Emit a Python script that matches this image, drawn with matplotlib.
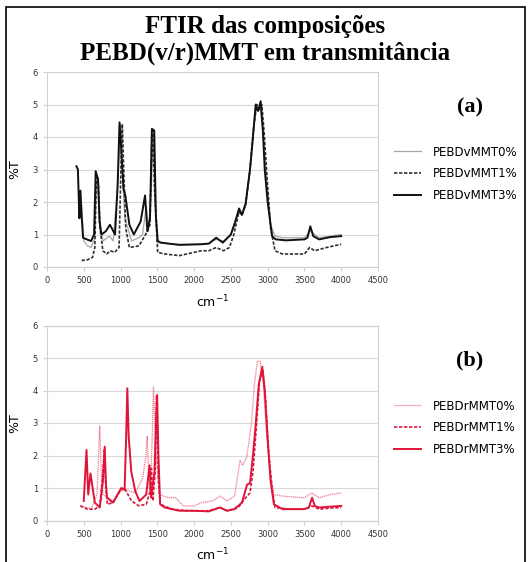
import matplotlib.pyplot as plt
from matplotlib.patches import Rectangle

# (wavenumber cm-1, %T)
v0 = [(430, 2.2), (450, 1.6), (470, 1.9), (500, 0.8), (550, 0.65), (600, 0.6), (650, 0.9), (670, 2.6),
      (690, 2.7), (710, 1.4), (760, 0.8), (850, 0.95), (900, 0.8), (960, 2.5), (1000, 4.4), (1030, 2.6),
      (1060, 1.5), (1150, 0.8), (1250, 0.9), (1300, 1.0), (1350, 1.9), (1380, 1.1), (1420, 2.5),
      (1445, 4.1), (1470, 2.0), (1500, 0.75), (1700, 0.7), (2000, 0.7), (2200, 0.72), (2300, 0.85),
      (2400, 0.8), (2500, 1.0), (2600, 1.7), (2650, 1.65), (2700, 1.9), (2760, 3.0), (2810, 4.3),
      (2850, 4.9), (2900, 4.9), (2940, 4.0), (2980, 2.8), (3040, 1.3), (3100, 0.95), (3200, 0.9),
      (3500, 0.9), (3580, 1.1), (3700, 0.9), (3850, 0.95), (4000, 1.0)]
v1 = [(470, 0.2), (550, 0.22), (620, 0.3), (650, 0.6), (670, 2.6), (686, 2.75), (700, 2.5), (720, 1.2),
      (760, 0.5), (810, 0.4), (860, 0.5), (920, 0.45), (980, 0.6), (1010, 3.5), (1024, 4.4), (1040, 3.2),
      (1070, 1.2), (1120, 0.6), (1250, 0.65), (1340, 1.0), (1400, 1.3), (1425, 3.8), (1437, 4.2),
      (1460, 2.5), (1505, 0.45), (1600, 0.4), (1800, 0.35), (2000, 0.45), (2100, 0.5), (2200, 0.5),
      (2300, 0.6), (2400, 0.5), (2480, 0.6), (2540, 1.0), (2610, 1.7), (2650, 1.6), (2700, 1.9),
      (2760, 3.0), (2810, 4.3), (2850, 5.0), (2890, 4.85), (2920, 5.0), (2950, 4.2), (2990, 2.8),
      (3040, 1.2), (3100, 0.5), (3200, 0.4), (3500, 0.4), (3570, 0.6), (3640, 0.5), (3800, 0.6),
      (4000, 0.7)]
v3 = [(400, 3.1), (420, 3.0), (440, 1.5), (455, 2.35), (470, 1.6), (490, 0.9), (540, 0.85),
      (600, 0.8), (640, 1.0), (662, 2.95), (694, 2.7), (715, 1.4), (740, 1.0), (800, 1.1), (856, 1.3),
      (925, 1.0), (960, 2.5), (986, 4.45), (1010, 3.6), (1040, 2.4), (1065, 2.2), (1120, 1.3),
      (1180, 1.0), (1273, 1.4), (1333, 2.2), (1365, 1.1), (1400, 1.5), (1426, 4.25), (1458, 4.2),
      (1480, 1.6), (1505, 0.8), (1550, 0.75), (1800, 0.68), (2100, 0.7), (2200, 0.72), (2300, 0.9),
      (2390, 0.75), (2500, 1.0), (2560, 1.4), (2611, 1.8), (2650, 1.6), (2700, 1.95), (2760, 3.0),
      (2800, 4.0), (2837, 5.0), (2870, 4.8), (2905, 5.1), (2935, 4.2), (2960, 3.0), (3000, 2.0),
      (3060, 0.95), (3110, 0.85), (3250, 0.82), (3500, 0.85), (3540, 0.9), (3580, 1.25), (3620, 0.95),
      (3700, 0.85), (3850, 0.92), (4000, 0.95)]

r0 = [(470, 0.45), (600, 0.35), (680, 0.8), (717, 2.9), (735, 1.6), (760, 0.8), (900, 0.6),
      (1000, 0.9), (1080, 0.95), (1200, 0.85), (1300, 1.3), (1345, 2.0), (1362, 2.6), (1380, 1.5),
      (1400, 0.8), (1430, 2.5), (1448, 4.12), (1475, 2.2), (1530, 0.8), (1650, 0.7), (1750, 0.7),
      (1850, 0.45), (2000, 0.45), (2100, 0.55), (2250, 0.6), (2350, 0.75), (2450, 0.6), (2550, 0.75),
      (2625, 1.85), (2660, 1.7), (2715, 1.95), (2778, 2.95), (2820, 4.2), (2860, 4.9), (2900, 4.9),
      (2940, 4.2), (2980, 2.8), (3030, 1.5), (3085, 0.8), (3200, 0.75), (3500, 0.7), (3600, 0.85),
      (3700, 0.7), (3850, 0.8), (4000, 0.85)]
r1 = [(450, 0.45), (550, 0.35), (650, 0.35), (720, 0.45), (760, 1.5), (780, 2.2), (800, 1.0),
      (820, 0.5), (900, 0.55), (1000, 0.95), (1050, 1.0), (1150, 0.6), (1250, 0.45), (1350, 0.5),
      (1400, 0.9), (1420, 1.6), (1440, 0.6), (1470, 1.5), (1490, 3.85), (1515, 1.2), (1540, 0.5),
      (1700, 0.35), (1900, 0.3), (2200, 0.3), (2350, 0.4), (2450, 0.3), (2600, 0.4), (2700, 0.7),
      (2760, 0.85), (2800, 1.5), (2850, 3.0), (2890, 4.3), (2935, 4.6), (2970, 3.8), (3010, 2.2),
      (3060, 1.0), (3100, 0.4), (3300, 0.35), (3500, 0.35), (3600, 0.45), (3700, 0.35), (3850, 0.38),
      (4000, 0.4)]
r3 = [(500, 0.6), (537, 2.17), (560, 0.8), (591, 1.45), (650, 0.55), (717, 0.4), (760, 1.2), (785, 2.27),
      (800, 1.2), (816, 0.7), (897, 0.55), (1010, 1.0), (1055, 0.95), (1075, 2.5), (1092, 4.07),
      (1110, 2.6), (1146, 1.5), (1200, 0.9), (1258, 0.6), (1349, 0.8), (1394, 1.7), (1416, 0.7),
      (1461, 1.5), (1485, 3.2), (1497, 3.86), (1515, 2.0), (1538, 0.5), (1600, 0.4), (1800, 0.3),
      (2000, 0.3), (2200, 0.28), (2350, 0.4), (2450, 0.3), (2550, 0.35), (2650, 0.55), (2720, 1.1),
      (2760, 1.15), (2800, 2.0), (2837, 2.95), (2880, 4.2), (2927, 4.73), (2960, 4.0), (3000, 2.5),
      (3040, 1.2), (3085, 0.5), (3200, 0.35), (3500, 0.35), (3560, 0.4), (3604, 0.7), (3640, 0.45),
      (3700, 0.4), (4000, 0.45)]

labels_a = ['PEBDvMMT0%', 'PEBDvMMT1%', 'PEBDvMMT3%']
labels_b = ['PEBDrMMT0%', 'PEBDrMMT1%', 'PEBDrMMT3%']

W, H = 531, 562
fig = plt.figure(figsize=(W / 100, H / 100), dpi=100)
fig.add_artist(Rectangle((6 / W, -0.01), 519 / W, 1 - 7 / H + 0.01, transform=fig.transFigure,
                         fill=False, ec='black', lw=1.2))

fig.text(265 / W, 1 - 26 / H, 'FTIR das composições', ha='center', va='center',
         family='Liberation Serif', weight='bold', fontsize=18)
fig.text(265 / W, 1 - 53 / H, 'PEBD(v/r)MMT em transmitância', ha='center', va='center',
         family='Liberation Serif', weight='bold', fontsize=18)


def setup(ax):
    ax.set_xlim(0, 4500)
    ax.set_ylim(0, 6)
    ax.set_xticks(range(0, 4501, 500))
    ax.set_yticks(range(0, 7))
    ax.grid(axis='y', color='#d9d9d9', lw=0.8)
    ax.set_axisbelow(True)
    for s in ax.spines.values():
        s.set_color('#d0d0d0')
        s.set_linewidth(0.8)
    ax.tick_params(labelsize=6, colors='#d0d0d0', labelcolor='#333333', length=3, width=0.8)
    ax.set_ylabel('%T', fontsize=9, labelpad=8)
    ax.set_xlabel('cm$^{\\mathregular{-1}}$', fontsize=9, labelpad=6)


def xy(pts):
    return [p[0] for p in pts], [p[1] for p in pts]


ax1 = fig.add_axes([47 / W, 1 - 267 / H, 331 / W, 195 / H])
setup(ax1)
ax1.plot(*xy(v0), color='#a8a8a8', lw=0.9, label=labels_a[0])
ax1.plot(*xy(v1), color='#303030', lw=1.2, ls=(0, (2, 1)), label=labels_a[1])
ax1.plot(*xy(v3), color='#111111', lw=1.4, label=labels_a[2])
ax1.legend(loc='upper left', bbox_to_anchor=(383 / W, 1 - 135 / H), bbox_transform=fig.transFigure,
           frameon=False, fontsize=8.5, handlelength=2.3, labelspacing=0.75, handletextpad=1.0)
fig.text(470 / W, 1 - 107 / H, '(a)', ha='center', va='center', family='Liberation Serif',
         weight='bold', fontsize=16)

ax2 = fig.add_axes([47 / W, 1 - 520.5 / H, 331 / W, 195 / H])
setup(ax2)
ax2.plot(*xy(r0), color='#f07f92', lw=0.9, ls=(0, (1, 0.6)), label=labels_b[0])
ax2.plot(*xy(r1), color='#d8183c', lw=1.2, ls=(0, (2, 1)), label=labels_b[1])
ax2.plot(*xy(r3), color='#e0143a', lw=1.4, label=labels_b[2])
ax2.legend(loc='upper left', bbox_to_anchor=(383 / W, 1 - 389 / H), bbox_transform=fig.transFigure,
           frameon=False, fontsize=8.5, handlelength=2.3, labelspacing=0.75, handletextpad=1.0)
fig.text(470 / W, 1 - 360 / H, '(b)', ha='center', va='center', family='Liberation Serif',
         weight='bold', fontsize=16)

fig.savefig('out.png', dpi=100)
